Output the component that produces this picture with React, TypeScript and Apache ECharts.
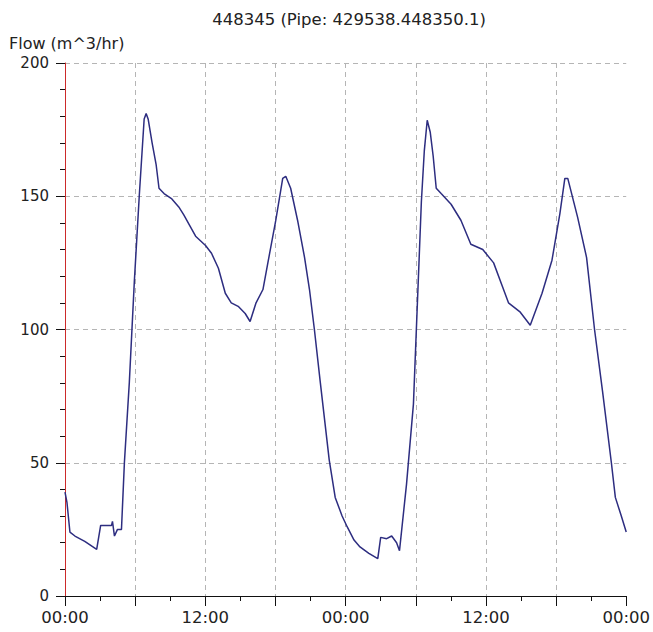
import React, { useEffect, useRef } from "react";
import * as echarts from "echarts";

const titleText = "448345 (Pipe: 429538.448350.1)";
const yAxisName = "Flow (m^3/hr)";

// hours since first midnight
const hours: number[] = [
  0.0, 0.17, 0.42, 0.85, 1.69, 2.71, 3.05, 3.98, 4.06, 4.23, 4.49, 4.83, 5.08, 5.5, 5.93, 6.35, 6.77, 6.94, 7.11,
  7.45, 7.79, 8.04, 8.47, 9.14, 9.73, 10.16, 10.67, 11.17, 12.02, 12.53, 13.12, 13.71, 14.22, 14.81, 15.41, 15.83,
  16.34, 16.93, 17.35, 18.03, 18.62, 18.88, 19.3, 19.89, 20.49, 20.91, 21.33, 21.84, 22.6, 23.11, 23.7, 24.13,
  24.72, 25.23, 25.99, 26.75, 27.0, 27.51, 27.94, 28.36, 28.61, 29.21, 29.8, 30.05, 30.48, 30.73, 30.98, 31.24,
  31.49, 31.75, 32.17, 33.02, 33.86, 34.71, 35.73, 36.66, 37.42, 37.93, 38.94, 39.79, 40.8, 41.65, 42.33, 42.75,
  43.0, 43.85, 44.61, 45.29, 45.97, 46.73, 47.07, 47.58, 48.0,
];
const flow: number[] = [
  39, 35, 24, 22.5, 20.5, 17.5, 26.5, 26.5, 28, 22.5, 25, 25, 50, 80, 118, 150, 179, 181, 179,
  170, 162, 153, 151, 149, 146, 143, 139, 135, 131.5, 128.6, 123, 113.6, 110, 108.7, 106, 103,
  110, 115, 125, 141, 156.7, 157.5, 153, 141, 127, 115, 100, 80, 51, 37, 30, 26,
  21, 18.4, 16, 14, 22, 21.5, 22.5, 20, 17, 42, 72, 100, 148, 167, 178.5, 174,
  165, 153, 151, 147, 141, 132, 130, 125, 116, 110, 106.5, 101.6, 113.6, 126, 143.6, 156.7,
  156.7, 142, 127, 100, 77, 50, 37, 30, 24,
];
const xTickLabels: Record<number, string> = { 0: "00:00", 12: "12:00", 24: "00:00", 36: "12:00", 48: "00:00" };

const FONT = "DejaVu Sans";

export default function App() {
  const ref = useRef<HTMLDivElement>(null);
  useEffect(() => {
    document.body.style.margin = "0";
    const chart = echarts.init(ref.current!, undefined, { renderer: "svg" });
    chart.setOption({
      animation: false,
      backgroundColor: "#ffffff",
      grid: { left: 65, top: 63, width: 567, height: 533 },
      graphic: [
        {
          type: "text",
          x: 349,
          y: 19,
          style: { text: titleText, font: `16.5px "${FONT}"`, fill: "#222", align: "center", verticalAlign: "middle" },
        },
        {
          type: "text",
          x: 9,
          y: 43,
          style: { text: yAxisName, font: `16px "${FONT}"`, fill: "#222", align: "left", verticalAlign: "middle" },
        },
      ],
      xAxis: {
        type: "value",
        min: 0,
        max: 48,
        interval: 6,
        axisLine: { show: true, lineStyle: { color: "#111", width: 1 } },
        axisTick: { show: true, length: 10, lineStyle: { color: "#111" } },
        minorTick: { show: true, splitNumber: 2, length: 5, lineStyle: { color: "#111" } },
        axisLabel: {
          margin: 13,
          color: "#222",
          fontFamily: FONT,
          fontSize: 16.5,
          showMaxLabel: true,
          formatter: (v: number) => xTickLabels[v] ?? "",
        },
        splitLine: { show: true, showMaxLine: false, lineStyle: { color: "#b5b5b5", type: [5, 4] } },
      },
      yAxis: {
        type: "value",
        min: 0,
        max: 200,
        interval: 50,
        axisLine: { show: true, lineStyle: { color: "#cc2a2a", width: 1 } },
        axisTick: { show: true, length: 9, lineStyle: { color: "#111" } },
        minorTick: { show: true, splitNumber: 5, length: 5, lineStyle: { color: "#111" } },
        axisLabel: { margin: 16, color: "#222", fontFamily: FONT, fontSize: 15 },
        splitLine: { show: true, showMinLine: false, lineStyle: { color: "#b5b5b5", type: [5, 4] } },
      },
      series: [
        {
          type: "line",
          data: hours.map((h, i) => [h, flow[i]]),
          showSymbol: false,
          lineStyle: { color: "#2d2d80", width: 1.5 },
        },
      ],
    });
    return () => chart.dispose();
  }, []);
  return <div ref={ref} style={{ width: 653, height: 632 }} />;
}
